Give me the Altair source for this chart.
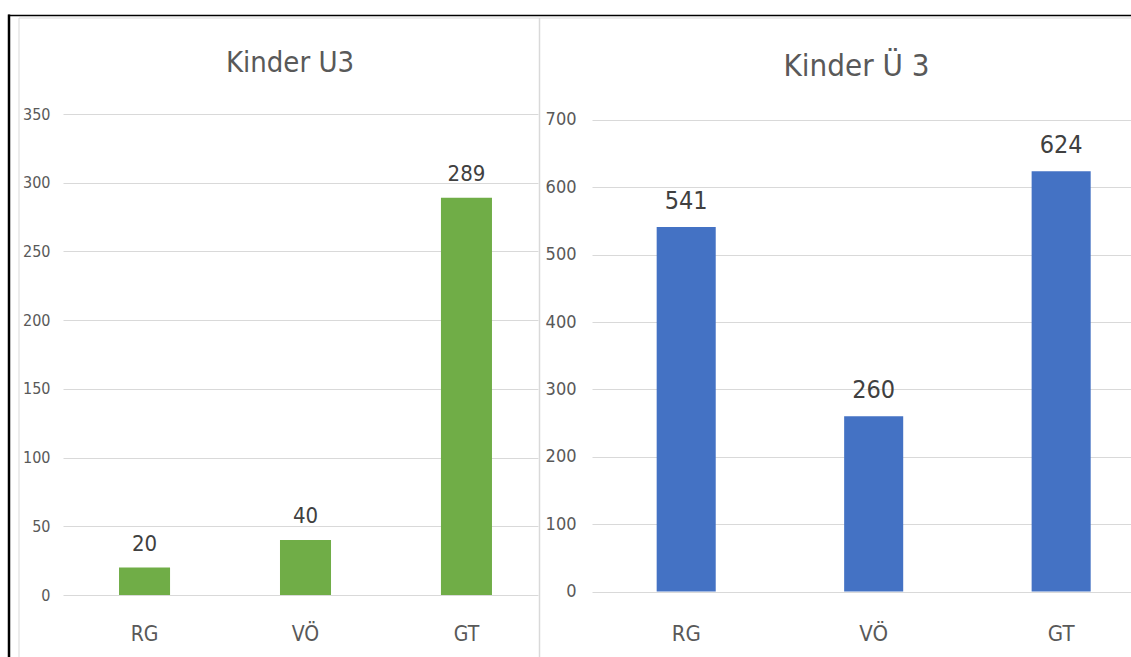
import altair as alt
import pandas as pd

# Kinderzahlen je Ort
kategorien = ["RG", "VÖ", "GT"]
kinder_u3 = [20, 40, 289]
kinder_ue3 = [541, 260, 624]

# Achsenbeschriftungen
ticks_u3 = [0, 50, 100, 150, 200, 250, 300, 350]
ticks_ue3 = [0, 100, 200, 300, 400, 500, 600, 700]

titel_u3 = "Kinder U3"
titel_ue3 = "Kinder Ü 3"

FONT = "DejaVu Sans Condensed, Liberation Sans, sans-serif"
GRAU = "#595959"
DUNKEL = "#404040"
LINIE = "#d9d9d9"

frame = alt.Chart(pd.DataFrame({"f": [0]}))


def panel(werte, ticks, titel, farbe, ymax, x_scale,
          xfs, yfs, vfs, tfs, x_pad, y_pad, v_dy, title_xy):
    df = pd.DataFrame({"Ort": kategorien, "Anzahl": werte})
    base = alt.Chart(df)
    x = alt.X(
        "Ort:N", sort=kategorien, title=None, scale=x_scale,
        axis=alt.Axis(labelAngle=0, labelFontSize=xfs, labelColor=GRAU,
                      labelFont=FONT, labelPadding=x_pad,
                      labelBaseline="alphabetic", ticks=False, tickSize=0,
                      domain=False, grid=False),
    )
    y = alt.Y(
        "Anzahl:Q", title=None,
        scale=alt.Scale(domain=[0, ymax], nice=False, zero=True),
        axis=alt.Axis(values=ticks, labelFontSize=yfs, labelColor=GRAU,
                      labelFont=FONT, labelPadding=y_pad, ticks=False,
                      tickSize=0, domain=False, gridColor=LINIE,
                      gridWidth=1),
    )
    bars = base.mark_bar(color=farbe).encode(x=x, y=y)
    labels = base.mark_text(
        baseline="alphabetic", dy=v_dy, fontSize=vfs, color=DUNKEL, font=FONT
    ).encode(x=x, y=y, text="Anzahl:Q")
    title = frame.mark_text(
        text=titel, fontSize=tfs, color=GRAU, font=FONT,
        baseline="alphabetic", align="center"
    ).encode(x=alt.value(title_xy[0]), y=alt.value(title_xy[1]))
    return bars, labels, title


bars_l, labels_l, title_l = panel(
    kinder_u3, ticks_u3, titel_u3, "#70AD47", 350,
    alt.Scale(paddingInner=0.683, paddingOuter=0.317, align=0.549),
    21, 16, 22, 29, 45.5, 13, -17, (227, -42.3),
)
bars_r, labels_r, title_r = panel(
    kinder_ue3, ticks_ue3, titel_ue3, "#4472C4", 708.9,
    alt.Scale(paddingInner=0.685, paddingOuter=0.28, align=0.616),
    22, 18, 25, 31, 48.8, 16, -18, (264.5, -38),
)

# Rahmenlinien um die beiden Diagrammflächen
black_top = frame.mark_rule(color="black", strokeWidth=1.5).encode(
    x=alt.value(-55), x2=alt.value(1068), y=alt.value(-98.5))
black_left = frame.mark_rule(color="black", strokeWidth=2.5).encode(
    x=alt.value(-54), y=alt.value(-99.5), y2=alt.value(543))
gray_top = frame.mark_rule(color=LINIE, strokeWidth=1).encode(
    x=alt.value(-44), x2=alt.value(1068), y=alt.value(-96))
gray_left = frame.mark_rule(color=LINIE, strokeWidth=1).encode(
    x=alt.value(-44), y=alt.value(-96), y2=alt.value(543))
gray_mid = frame.mark_rule(color=LINIE, strokeWidth=1.5).encode(
    x=alt.value(476.5), y=alt.value(-96), y2=alt.value(543))

left = alt.layer(
    gray_top, gray_left, gray_mid, black_top, black_left,
    bars_l, labels_l, title_l,
).properties(width=475, height=481)

right = alt.layer(bars_r, labels_r, title_r).properties(width=539, height=477.5)

chart = alt.hconcat(left, right, spacing=54, bounds="flush").properties(
    autosize=alt.AutoSizeParams(type="none"),
    padding={"left": 63, "top": 114, "right": 1068, "bottom": 543},
    background="white",
).configure_view(strokeWidth=0)

chart.save("out.html", embed_options={"renderer": "svg", "actions": False})
